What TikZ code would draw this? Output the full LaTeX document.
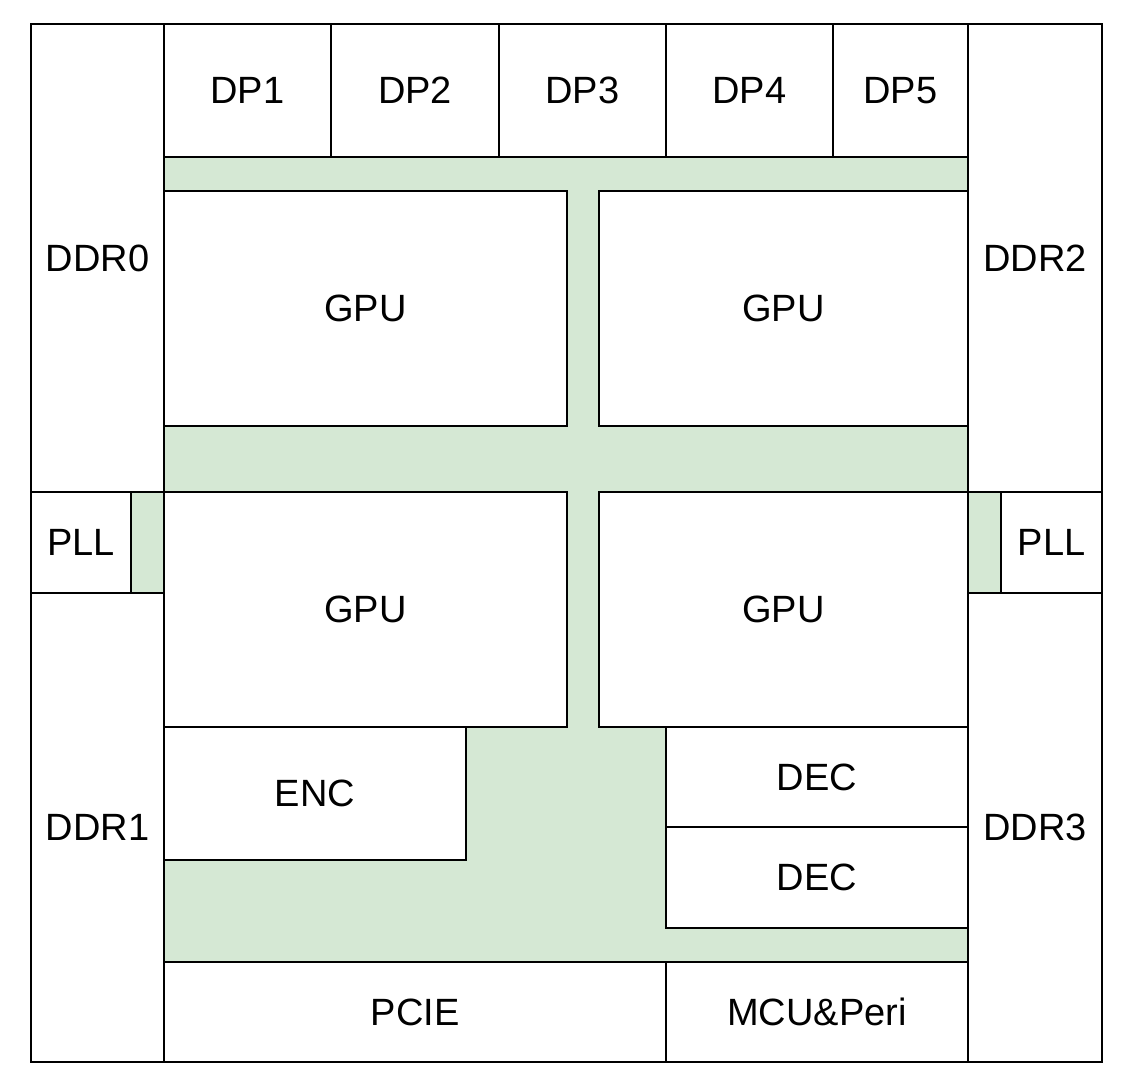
\documentclass[tikz,border=0pt]{standalone}
\usepackage{fontspec}
\setmainfont{Liberation Sans}
\definecolor{bus}{HTML}{D5E8D4}
\tikzset{box/.style={draw=black,line width=2.5pt,fill=white},
 lbl/.style={font=\fontsize{38}{40}\selectfont,text=black,inner sep=0pt},
 green/.style={fill=bus,draw=none}}
\newcommand\blk[6]{\draw[box] (#1,#2) rectangle (#3,#4) node[midway,lbl] (#5) {#6};}
\begin{document}
\begin{tikzpicture}[x=1pt,y=-1pt]
\useasboundingbox (0,0) rectangle (1127,1089);
\fill[green] (164,157) rectangle (968,962);
\fill[green] (131,492) rectangle (164,593);
\fill[green] (968,492) rectangle (1001,593);
\blk{31}{24}{164}{492}{ddr0}{DDR0}
\blk{31}{492}{131}{593}{pll0}{PLL}
\blk{31}{593}{164}{1062}{ddr1}{DDR1}
\blk{968}{24}{1102}{492}{ddr2}{DDR2}
\blk{1001}{492}{1102}{593}{pll1}{PLL}
\blk{968}{593}{1102}{1062}{ddr3}{DDR3}
\blk{164}{24}{331}{157}{dp1}{DP1}
\blk{331}{24}{499}{157}{dp2}{DP2}
\blk{499}{24}{666}{157}{dp3}{DP3}
\blk{666}{24}{833}{157}{dp4}{DP4}
\blk{833}{24}{968}{157}{dp5}{DP5}
\blk{164}{191}{567}{426}{g1}{GPU}
\blk{599}{191}{968}{426}{g2}{GPU}
\blk{164}{492}{567}{727}{g3}{GPU}
\blk{599}{492}{968}{727}{g4}{GPU}
\blk{164}{727}{466}{860}{enc}{ENC}
\blk{666}{727}{968}{827}{dec1}{DEC}
\blk{666}{827}{968}{928}{dec2}{DEC}
\blk{164}{962}{666}{1062}{pcie}{PCIE}
\blk{666}{962}{968}{1062}{mcu}{MCU\&Peri}
\draw[line width=2.5pt] (164,157) -- (164,962) (968,157) -- (968,962) (131,492) -- (164,492) (131,593) -- (164,593) (968,492)--(1001,492) (968,593)--(1001,593);
\end{tikzpicture}
\end{document}
